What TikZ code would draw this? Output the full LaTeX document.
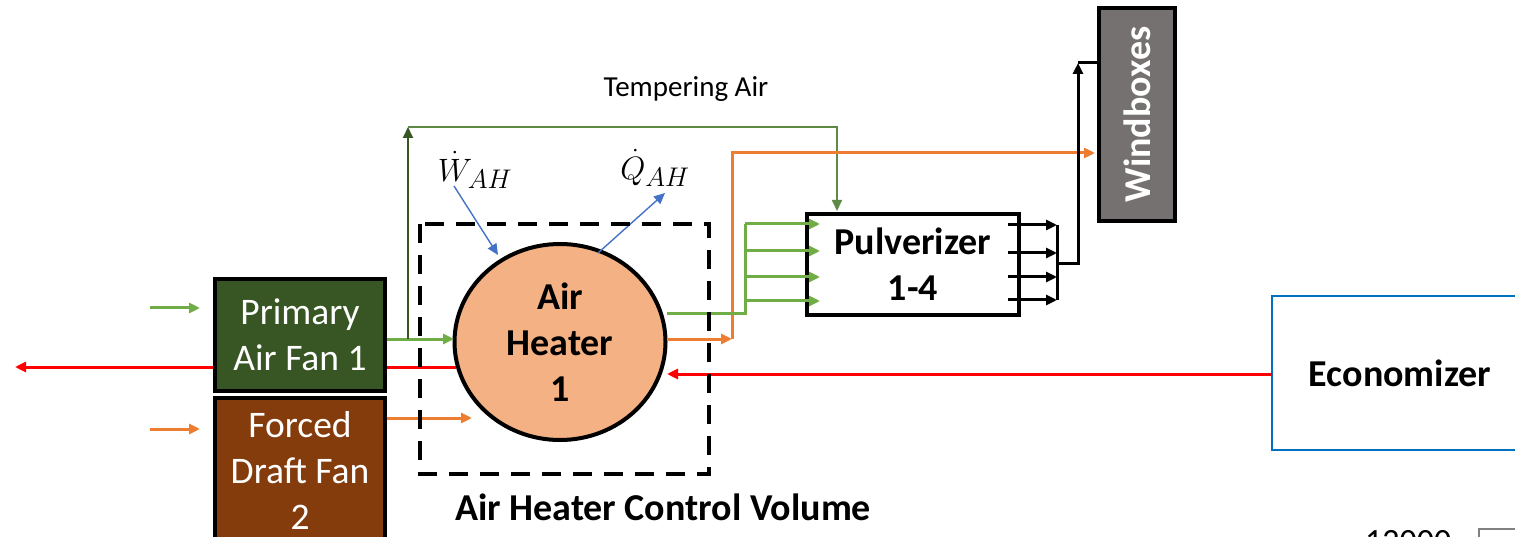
\documentclass[tikz,border=0pt]{standalone}
\usepackage{fontspec}
\setmainfont{Carlito}
\usetikzlibrary{arrows.meta,shapes.geometric}
\definecolor{pagreen}{HTML}{375623}
\definecolor{fdbrown}{HTML}{843C0C}
\definecolor{ahfill}{HTML}{F4B183}
\definecolor{lgreen}{HTML}{70AD47}
\definecolor{tgreen}{HTML}{5E8A45}
\definecolor{tgreendark}{HTML}{385723}
\definecolor{orng}{HTML}{ED7D31}
\definecolor{wbgray}{HTML}{767171}
\definecolor{blu}{HTML}{4472C4}
\definecolor{econblue}{HTML}{0070C0}
\definecolor{redline}{HTML}{FF0000}
\tikzset{
  box/.style={draw=black,line width=4pt,inner sep=0pt,align=center},
  fanbox/.style={box,text=white,minimum width=170pt,font=\fontsize{37.5}{46}\selectfont},
  boldtxt/.style={font=\fontsize{38}{46}\selectfont\bfseries},
  arr/.style={-{Triangle[length=11pt,width=10pt]}},
  flowg/.style={lgreen,line width=3pt},
  flowo/.style={orng,line width=3pt},
  flowr/.style={redline,line width=3pt},
  flowk/.style={black,line width=3pt},
  flowt/.style={tgreen,line width=1.8pt},
  flowb/.style={blu,line width=1.4pt,-{Triangle[length=11pt,width=10pt]}},
  mathlbl/.style={font=\fontsize{24.88}{30}\selectfont},
}
\begin{document}
\begin{tikzpicture}[x=1pt,y=-1pt]
\useasboundingbox (0,0) rectangle (1515,537);

% ---------- nodes ----------
\node[fanbox,fill=pagreen,minimum height=112pt] (pa) at (300,335) {Primary\\Air Fan 1};
\node[fanbox,fill=fdbrown,minimum height=145pt] (fd) at (300,470.5) {Forced\\Draft Fan\\2};
\node[box,ellipse,fill=ahfill,minimum width=211pt,minimum height=196pt,boldtxt] (ah) at (560,342) {Air\\Heater\\1};
\node[box,fill=white,minimum width=212pt,minimum height=101pt,boldtxt] (pv) at (913,264.5) {Pulverizer\\1-4};
\node[box,fill=wbgray,minimum width=76pt,minimum height=213pt] (wb) at (1137,114.5) {};
\node[text=white,boldtxt,rotate=90] (wbt) at (wb.center) {Windboxes};
\node[draw=econblue,line width=2pt,minimum width=258pt,minimum height=154pt,inner sep=0pt] (ec) at (1401,373) {};
\node[boldtxt] (ect) at (1400,373) {Economizer};

\node[font=\fontsize{29}{34}\selectfont] (temp) at (686,89) {Tempering Air};
\node[mathlbl] (wah) at (475,170) {\scalebox{1.3}{$\dot{W}_{AH}$}};
\node[mathlbl] (qah) at (655,168) {\scalebox{1.3}{$\dot{Q}_{AH}$}};
\node[boldtxt] (cvl) at (663,507) {Air Heater Control Volume};

% ---------- coordinates ----------
\coordinate (gin0) at (150,308);   \coordinate (gin1) at (200,308);
\coordinate (oin0) at (150,429);   \coordinate (oin1) at (200,429);
\coordinate (rAH) at (456,367);    \coordinate (rPAe) at (387,367);
\coordinate (rPAw) at (213,367);   \coordinate (rOut) at (15,367);
\coordinate (gPA) at (387,339);    \coordinate (gAH) at (454,339);
\coordinate (tBr) at (408,339);    \coordinate (tTop) at (408,127);
\coordinate (tRt) at (837,127);    \coordinate (tPv) at (837,211);
\coordinate (oFD) at (387,418);    \coordinate (oAH) at (472,418);
\coordinate (oAHo) at (668,339);   \coordinate (oMid) at (732,339);
\coordinate (oUp) at (732,153);    \coordinate (oWb) at (1095,153);
\coordinate (gAHo) at (667,313);   \coordinate (gBus) at (745,313);
\coordinate (gBusT) at (745,224);
\coordinate (rEc) at (1272,374);   \coordinate (rAHe) at (667,374);
\coordinate (bW0) at (454,186);    \coordinate (bW1) at (498,255);
\coordinate (bQ0) at (598,253);    \coordinate (bQ1) at (665,193);
\coordinate (kBus) at (1057,264);  \coordinate (kMid) at (1078,264);
\coordinate (kTop) at (1078,63);   \coordinate (kWb) at (1097,63);

% ---------- connectors ----------
\draw[flowg,arr] (gin0) -- (gin1);
\draw[flowo,arr] (oin0) -- (oin1);
\draw[flowr] (rAH) -- (rPAe);
\draw[flowr,arr] (rPAw) -- (rOut);
\draw[flowg,arr] (gPA) -- (gAH);
\draw[flowt,-{Triangle[length=11pt,width=10pt,fill=tgreendark]},tgreendark] (tBr) -- (tTop);
\draw[flowt,-{Triangle[length=11pt,width=10pt]}] (tTop) -- (tRt) -- (tPv);
\draw[flowo,arr] (oFD) -- (oAH);
\draw[flowo,arr] (oAHo) -- (oMid);
\draw[flowo,arr] (oMid) -- (oUp) -- (oWb);
\draw[flowg] (gAHo) -- (gBus) -- (gBusT);
\foreach \yy/\nm in {224/a,251/b,277/c,301/d}{
  \coordinate (gb\nm) at (745,\yy);
  \coordinate (gp\nm) at (820,\yy);
  \draw[flowg,arr] (gb\nm) -- (gp\nm);
}
\draw[flowr,arr] (rEc) -- (rAHe);
\draw[flowb] (bW0) -- (bW1);
\draw[flowb] (bQ0) -- (bQ1);
\foreach \yy/\nm in {225/a,253/b,277/c,300/d}{
  \coordinate (ko\nm) at (1008,\yy);
  \coordinate (kt\nm) at (1057,\yy);
  \draw[flowk,arr] (ko\nm) -- (kt\nm);
}
\draw[flowk] (kta) -- (ktd);
\draw[flowk,arr] (kBus) -- (kMid) -- (kTop);
\draw[flowk] (kTop) -- (kWb);

% ---------- control volume ----------
\draw[black,line width=4pt,dash pattern=on 19pt off 12pt] (420,224) rectangle (709,474);

% ---------- cut-off fragment at bottom right ----------
\begin{scope}
\clip (0,0) rectangle (1515,537);
\node[font=\fontsize{34}{40}\selectfont,anchor=north west,inner sep=0pt] (frag) at (1365,530) {12000};
\draw[gray,line width=1.2pt] (1479,560) -- (1479,529) -- (1530,529);
\end{scope}
\end{tikzpicture}
\end{document}
